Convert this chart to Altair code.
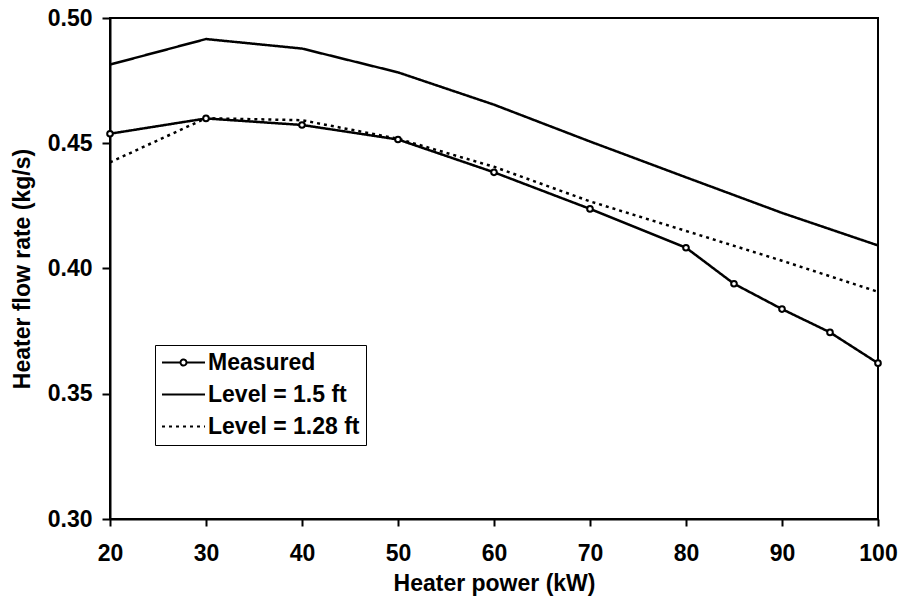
import altair as alt
import pandas as pd

# ---- data ----
series_names = ["Measured", "Level = 1.5 ft", "Level = 1.28 ft"]

power_measured = [20, 30, 40, 50, 60, 70, 80, 85, 90, 95, 100]
flow_measured = [0.4538, 0.4599, 0.4573, 0.4515, 0.4384, 0.4238, 0.4083, 0.3939, 0.3838, 0.3745, 0.3622]

power_model = [20, 30, 40, 50, 60, 70, 80, 90, 100]
flow_level_150 = [0.4814, 0.4916, 0.4878, 0.4783, 0.4654, 0.4507, 0.4364, 0.4222, 0.4092]
flow_level_128 = [0.4424, 0.4600, 0.4592, 0.4518, 0.4406, 0.4268, 0.4150, 0.4031, 0.3907]

x_ticks = [20, 30, 40, 50, 60, 70, 80, 90, 100]
y_ticks = [0.30, 0.35, 0.40, 0.45, 0.50]

rows = []
for p, f in zip(power_measured, flow_measured):
    rows.append({"power": p, "flow": f, "series": series_names[0]})
for p, f in zip(power_model, flow_level_150):
    rows.append({"power": p, "flow": f, "series": series_names[1]})
for p, f in zip(power_model, flow_level_128):
    rows.append({"power": p, "flow": f, "series": series_names[2]})
df = pd.DataFrame(rows)

FONT = "Liberation Sans"

# legend symbol paths (line with a small open circle, plain line)
path_measured = "M-2.15,0H-0.3M0.3,0H2.15M-0.3,0A0.3,0.3,0,1,1,0.3,0A0.3,0.3,0,1,1,-0.3,0"
path_line = "M-2.15,0H2.15"

dash_scale = alt.Scale(domain=series_names, range=[[1, 0], [1, 0], [3, 4]])
shape_scale = alt.Scale(domain=series_names, range=[path_measured, path_line, path_line])

x_enc = alt.X(
    "power:Q",
    scale=alt.Scale(domain=[20, 100], nice=False, zero=False),
    axis=alt.Axis(values=x_ticks, title="Heater power (kW)", tickSize=7,
                  labelPadding=16, titlePadding=7, labelFlush=False),
)
y_enc = alt.Y(
    "flow:Q",
    scale=alt.Scale(domain=[0.30, 0.50], nice=False, zero=False),
    axis=alt.Axis(values=y_ticks, format=".2f", title="Heater flow rate (kg/s)",
                  tickSize=8, labelPadding=10, titlePadding=13, labelFlush=False),
)

leg = alt.Legend(
    orient="none", legendX=45, legendY=327, title=None,
    strokeColor="black", fillColor="white", padding=6,
    labelFont=FONT, labelFontSize=23, labelFontWeight="bold", labelColor="black",
    labelLimit=400, symbolSize=400, symbolStrokeWidth=2, symbolStrokeColor="black",
    symbolFillColor="white", symbolOffset=11, labelOffset=13, rowPadding=8,
    symbolOpacity=1,
)

lines = alt.Chart(df).mark_line(color="black", strokeWidth=2.5).encode(
    x=x_enc,
    y=y_enc,
    strokeDash=alt.StrokeDash("series:N", scale=dash_scale, legend=leg),
)

points = alt.Chart(df).transform_filter(
    alt.datum.series == "Measured"
).mark_point(
    shape="circle", size=32, filled=True, fill="white", stroke="black",
    strokeWidth=2, opacity=1
).encode(x=x_enc, y=y_enc)

legend_layer = alt.Chart(df).transform_filter("false").mark_point(
    color="black", strokeWidth=2, filled=False
).encode(
    x=x_enc,
    y=y_enc,
    shape=alt.Shape("series:N", scale=shape_scale, legend=leg),
    strokeDash=alt.StrokeDash("series:N", scale=dash_scale, legend=leg),
)

chart = alt.layer(lines, points, legend_layer).properties(
    width=768,
    height=501,
    padding={"left": 110, "top": 18, "right": 25, "bottom": 86},
    autosize=alt.AutoSizeParams(type="none"),
    background="white",
).configure_view(
    stroke="black", strokeWidth=2
).configure_axis(
    grid=False,
    domainColor="black", domainWidth=2,
    tickColor="black", tickWidth=2,
    labelFont=FONT, labelFontSize=23, labelFontWeight="bold", labelColor="black",
    titleFont=FONT, titleFontSize=23, titleFontWeight="bold", titleColor="black",
)

chart.save("out.html", embed_options={"renderer": "svg", "actions": False})
